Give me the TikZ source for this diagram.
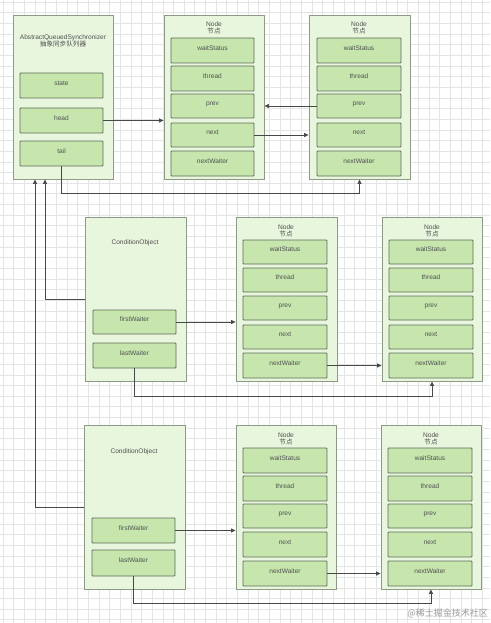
\documentclass[tikz,border=0pt]{standalone}
\usepackage{fontspec}
\setmainfont{Liberation Sans}
\newfontfamily\cjk{Noto Sans CJK SC}
\usetikzlibrary{fit,arrows.meta}
\definecolor{outerfill}{HTML}{E9F6DE}
\definecolor{outerdraw}{HTML}{8E9A88}
\definecolor{fieldfill}{HTML}{C6E6AE}
\definecolor{fielddraw}{HTML}{5E6B58}
\definecolor{txt}{HTML}{505050}
\definecolor{gridc}{HTML}{E4E4E4}
\definecolor{linec}{HTML}{484848}
\definecolor{wmark}{HTML}{9A9A9A}
\tikzset{
  outerbox/.style={draw=outerdraw, fill=outerfill, line width=0.9pt},
  fieldbox/.style={draw=fielddraw, fill=fieldfill, line width=0.9pt, rounded corners=0.8pt,
                   font=\fontsize{6.6}{7.5}\selectfont, text=txt},
  titletext/.style={font=\fontsize{6.6}{7.6}\selectfont, text=txt, align=center, inner sep=0pt},
  conn/.style={draw=linec, line width=0.7pt, -{Triangle[length=4.5pt,width=4pt]}},
}
\newcommand\rbox[7]{\node[#6, fit={(#2,#3)(#4,#5)}, inner sep=0pt] (#1) {#7};}
\newcommand\nodeblock[8]{%
  % #1 prefix, #2 x1, #3 x2, #4 y1, #5 y2, #6 fx1, #7 fx2, #8 list of field y's
  \rbox{#1}{#2}{#4}{#3}{#5}{outerbox}{}
}
\begin{document}
\begin{tikzpicture}[x=1pt,y=-1pt]
\useasboundingbox (0,0) rectangle (490,623);
\fill[white] (0,0) rectangle (490,623);
\foreach \i in {0,...,46} {\draw[gridc, line width=0.5pt] ({3+\i*10.65},0) -- ({3+\i*10.65},623);}
\foreach \i in {0,...,59} {\draw[gridc, line width=0.5pt] (0,{2+\i*10.65}) -- (490,{2+\i*10.65});}

% ---------- AQS ----------
\rbox{aqs}{13}{15}{113}{179}{outerbox}{}
\node[titletext] (aqst) at (63,41) {AbstractQueuedSynchronizer\\{\cjk 抽象同步队列器}};
\rbox{aqsstate}{20}{73}{103}{98}{fieldbox}{state}
\rbox{aqshead}{20}{108}{103}{133}{fieldbox}{head}
\rbox{aqstail}{20}{141}{103}{166}{fieldbox}{tail}

% ---------- Node 1 ----------
\rbox{n1}{164}{15}{264}{179}{outerbox}{}
\node[titletext] (n1t) at (214,28) {Node\\{\cjk 节点}};
\rbox{n1ws}{171}{38}{254}{63}{fieldbox}{waitStatus}
\rbox{n1th}{171}{66}{254}{91}{fieldbox}{thread}
\rbox{n1pr}{171}{94}{254}{118}{fieldbox}{prev}
\rbox{n1nx}{171}{123}{254}{147}{fieldbox}{next}
\rbox{n1nw}{171}{151}{254}{176}{fieldbox}{nextWaiter}

% ---------- Node 2 ----------
\rbox{n2}{309}{15}{410}{179}{outerbox}{}
\node[titletext] (n2t) at (359,28) {Node\\{\cjk 节点}};
\rbox{n2ws}{317}{38}{401}{63}{fieldbox}{waitStatus}
\rbox{n2th}{317}{66}{401}{91}{fieldbox}{thread}
\rbox{n2pr}{317}{94}{401}{118}{fieldbox}{prev}
\rbox{n2nx}{317}{123}{401}{147}{fieldbox}{next}
\rbox{n2nw}{317}{151}{401}{176}{fieldbox}{nextWaiter}

% ---------- ConditionObject 1 ----------
\rbox{c1}{85}{217}{186}{381}{outerbox}{}
\node[titletext] (c1t) at (135,243) {ConditionObject};
\rbox{c1first}{93}{310}{176}{334}{fieldbox}{firstWaiter}
\rbox{c1last}{93}{343}{176}{368}{fieldbox}{lastWaiter}

% ---------- Node 3 ----------
\rbox{n3}{236}{217}{337}{381}{outerbox}{}
\node[titletext] (n3t) at (286,231) {Node\\{\cjk 节点}};
\rbox{n3ws}{243}{240}{327}{264}{fieldbox}{waitStatus}
\rbox{n3th}{243}{268}{327}{292}{fieldbox}{thread}
\rbox{n3pr}{243}{296}{327}{320}{fieldbox}{prev}
\rbox{n3nx}{243}{325}{327}{349}{fieldbox}{next}
\rbox{n3nw}{243}{353}{327}{378}{fieldbox}{nextWaiter}

% ---------- Node 4 ----------
\rbox{n4}{382}{217}{482}{381}{outerbox}{}
\node[titletext] (n4t) at (432,231) {Node\\{\cjk 节点}};
\rbox{n4ws}{389}{240}{473}{264}{fieldbox}{waitStatus}
\rbox{n4th}{389}{268}{473}{292}{fieldbox}{thread}
\rbox{n4pr}{389}{296}{473}{320}{fieldbox}{prev}
\rbox{n4nx}{389}{325}{473}{349}{fieldbox}{next}
\rbox{n4nw}{389}{353}{473}{378}{fieldbox}{nextWaiter}

% ---------- ConditionObject 2 ----------
\rbox{c2}{84}{425}{185}{589}{outerbox}{}
\node[titletext] (c2t) at (134,452) {ConditionObject};
\rbox{c2first}{92}{518}{175}{543}{fieldbox}{firstWaiter}
\rbox{c2last}{92}{550}{175}{576}{fieldbox}{lastWaiter}

% ---------- Node 5 ----------
\rbox{n5}{236}{425}{336}{589}{outerbox}{}
\node[titletext] (n5t) at (286,439) {Node\\{\cjk 节点}};
\rbox{n5ws}{243}{448}{327}{473}{fieldbox}{waitStatus}
\rbox{n5th}{243}{476}{327}{501}{fieldbox}{thread}
\rbox{n5pr}{243}{504}{327}{528}{fieldbox}{prev}
\rbox{n5nx}{243}{532}{327}{557}{fieldbox}{next}
\rbox{n5nw}{243}{561}{327}{586}{fieldbox}{nextWaiter}

% ---------- Node 6 ----------
\rbox{n6}{381}{425}{481}{589}{outerbox}{}
\node[titletext] (n6t) at (431,439) {Node\\{\cjk 节点}};
\rbox{n6ws}{388}{448}{472}{473}{fieldbox}{waitStatus}
\rbox{n6th}{388}{476}{472}{501}{fieldbox}{thread}
\rbox{n6pr}{388}{504}{472}{528}{fieldbox}{prev}
\rbox{n6nx}{388}{532}{472}{557}{fieldbox}{next}
\rbox{n6nw}{388}{561}{472}{586}{fieldbox}{nextWaiter}

% ---------- Connectors ----------
\draw[conn] (aqshead.east) -- (aqshead.east -| n1.west);
\draw[conn] (n2pr.west) -- (n2pr.west -| n1.east);
\draw[conn] (n1nx.east) -- (n1nx.east -| n2.west);
\draw[conn] (aqstail.south) -- (aqstail.south |- 0,193) -| (n2.south);

\draw[conn] (c1.west) -| ([xshift=-18pt]aqs.south);
\draw[conn] (c2.west) -| ([xshift=-28pt]aqs.south);

\draw[conn] (c1first.east) -- (c1first.east -| n3.west);
\draw[conn] (n3nw.east) -- (n3nw.east -| n4.west);
\draw[conn] (c1last.south) -- (c1last.south |- 0,396) -| (n4.south);

\draw[conn] (c2first.east) -- (c2first.east -| n5.west);
\draw[conn] (n5nw.east) -- (n5nw.east -| n6.west);
\draw[conn] (c2last.south) -- (c2last.south |- 0,603) -| (n6.south);

% watermark
\node[anchor=east, text=wmark, font=\cjk\fontsize{9}{10}\selectfont, inner sep=0pt] (wm) at (488,613) {@稀土掘金技术社区};
\end{tikzpicture}
\end{document}
